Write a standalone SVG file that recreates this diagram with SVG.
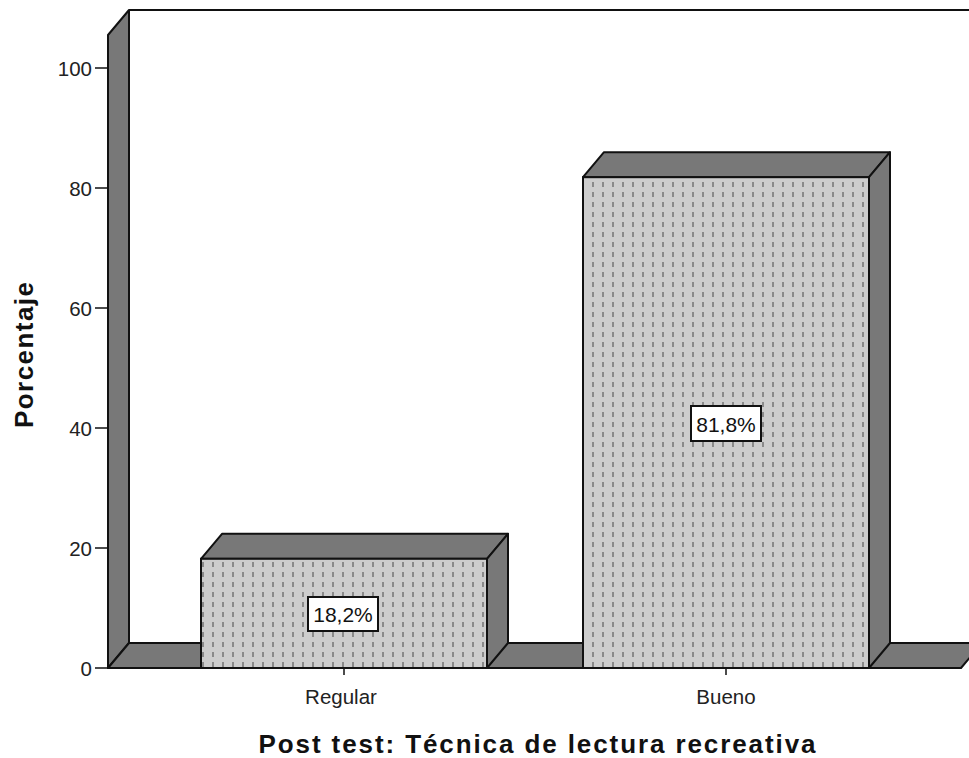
<svg xmlns="http://www.w3.org/2000/svg" width="969" height="758" viewBox="0 0 969 758">
<style>
.face{fill:#787878;stroke:#111;stroke-width:2;stroke-linejoin:round}
.front{fill:url(#dots);stroke:#111;stroke-width:2}
.tick{stroke:#111;stroke-width:1.5}
.tl{font-family:"Liberation Sans",Arial,sans-serif;font-size:20.5px;fill:#222}
.lbl{font-family:"Liberation Sans",Arial,sans-serif;font-size:21px;fill:#111}
.ttl{font-family:"Liberation Sans",Arial,sans-serif;font-weight:bold;fill:#111}
.box{fill:#fff;stroke:#111;stroke-width:2}
</style>
<defs>
<pattern id="dots" patternUnits="userSpaceOnUse" x="0" y="0" width="10" height="10">
<rect width="10" height="10" fill="#cdcdcd"/>
<rect x="2" y="2" width="2" height="5" fill="#8a8a8a"/>
</pattern>
</defs>
<rect width="969" height="758" fill="#fff"/>
<g id="frame">
<line x1="129" y1="10" x2="969" y2="10" stroke="#111" stroke-width="2"/>
<polygon class="face" points="108,35 129,10 129,643 108,668"/>
<polygon class="face" points="108,668 129,643 982,643 961,668"/>
</g>
<g id="axes">
<line class="tick" x1="95" y1="668" x2="108" y2="668"/>
<line class="tick" x1="95" y1="548" x2="108" y2="548"/>
<line class="tick" x1="95" y1="428" x2="108" y2="428"/>
<line class="tick" x1="95" y1="308" x2="108" y2="308"/>
<line class="tick" x1="95" y1="188" x2="108" y2="188"/>
<line class="tick" x1="95" y1="68" x2="108" y2="68"/>
<text class="tl" x="92" y="676" text-anchor="end">0</text>
<text class="tl" x="92" y="556" text-anchor="end">20</text>
<text class="tl" x="92" y="436" text-anchor="end">40</text>
<text class="tl" x="92" y="316" text-anchor="end">60</text>
<text class="tl" x="92" y="196" text-anchor="end">80</text>
<text class="tl" x="92" y="76" text-anchor="end">100</text>
<line class="tick" x1="344" y1="668" x2="344" y2="675"/>
<line class="tick" x1="726" y1="668" x2="726" y2="675"/>
<text class="tl" x="341" y="704" text-anchor="middle">Regular</text>
<text class="tl" x="726" y="704" text-anchor="middle">Bueno</text>
<text class="ttl" x="537" y="753" font-size="26" text-anchor="middle" textLength="557" lengthAdjust="spacing">Post test: Técnica de lectura recreativa</text>
<text class="ttl" transform="translate(33,355) rotate(-90)" x="0" y="0" font-size="26" text-anchor="middle" textLength="146" lengthAdjust="spacing">Porcentaje</text>
</g>
<g id="bar-regular">
<polygon class="face" points="201,558.8 222,533.8 508,533.8 487,558.8"/>
<polygon class="face" points="487,558.8 508,533.8 508,643 487,668"/>
<rect class="front" x="201" y="558.8" width="286" height="109.2"/>
<rect class="box" x="308" y="597" width="70" height="34"/>
<text class="lbl" x="343" y="622" text-anchor="middle">18,2%</text>
</g>
<g id="bar-bueno">
<polygon class="face" points="583,177.2 604,152.2 890,152.2 869,177.2"/>
<polygon class="face" points="869,177.2 890,152.2 890,643 869,668"/>
<rect class="front" x="583" y="177.2" width="286" height="490.8"/>
<rect class="box" x="691" y="406" width="70" height="35"/>
<text class="lbl" x="726" y="431.5" text-anchor="middle">81,8%</text>
</g>
</svg>
